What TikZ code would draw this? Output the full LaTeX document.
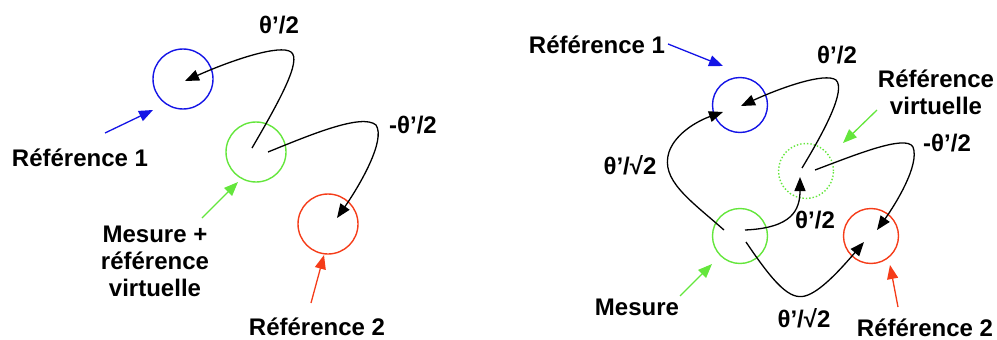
\documentclass[tikz,border=0pt]{standalone}
\usepackage{fontspec}
\setmainfont{Liberation Sans}
\usetikzlibrary{arrows.meta}
\definecolor{cblue}{RGB}{20,20,230}
\definecolor{cgreen}{RGB}{100,230,60}
\definecolor{cred}{RGB}{245,60,25}
\tikzset{
  ring/.style={circle,draw,line width=1.4pt,inner sep=0pt},
  conn/.style={line width=1.3pt,-{Triangle[length=14pt,width=11pt]}},
  lab/.style={font=\fontsize{24}{28}\selectfont\bfseries,inner sep=0pt,align=center},
}
\begin{document}
\begin{tikzpicture}[x=1pt,y=-1pt]
\useasboundingbox (0,0) rectangle (997,340);
% ---------- left panel ----------
\node[ring,draw=cblue,minimum size=60pt] (L1) at (183,79) {};
\node[ring,draw=cgreen,minimum size=60pt] (LM) at (256,152) {};
\node[ring,draw=cred,minimum size=60pt] (L2) at (328,224) {};
\coordinate (lms1) at (252,148);
\coordinate (lms2) at (268,152);
\coordinate (l1t) at (185,81);
\coordinate (l2t) at (337,218);
\draw[conn] (lms1) .. controls (280,100) and (302,60) .. (291,52) .. controls (280,44) and (232,60) .. (l1t);
\draw[conn] (lms2) .. controls (310,135) and (362,113) .. (376,125) .. controls (386,140) and (360,185) .. (l2t);
\node[lab] (tl1) at (279,25) {θ’/2};
\node[lab] (tl2) at (413,125) {-θ’/2};
\node[lab] (tr1) at (80,158) {Référence 1};
\node[lab] (tm) at (155,261) {Mesure +\\[-1pt]référence\\[-1pt]virtuelle};
\node[lab] (tr2) at (317,327) {Référence 2};
\coordinate (ba) at (105,133);
\coordinate (ga) at (202,218);
\coordinate (ra) at (311,303);
\coordinate (bat) at (153,110);
\coordinate (gat) at (238,182);
\coordinate (rat) at (324,255);
\draw[conn,cblue] (ba) -- (bat);
\draw[conn,cgreen] (ga) -- (gat);
\draw[conn,cred] (ra) -- (rat);
% ---------- right panel ----------
\node[ring,draw=cblue,minimum size=55pt] (R1) at (740,105) {};
\node[ring,draw=cgreen,dotted,minimum size=55pt] (RV) at (806,171) {};
\node[ring,draw=cgreen,minimum size=55pt] (RM) at (740,236) {};
\node[ring,draw=cred,minimum size=55pt] (R2) at (871,236) {};
\coordinate (rv1) at (802,168);
\coordinate (rv2) at (815,170);
\coordinate (rm1) at (724,230);
\coordinate (rm2) at (745,230);
\coordinate (rm3) at (746,242);
\coordinate (r1a) at (741,106);
\coordinate (r1b) at (723,112);
\coordinate (rvt) at (800,177);
\coordinate (r2a) at (877,230);
\coordinate (r2b) at (864,242);
\draw[conn] (rv1) .. controls (825,130) and (846,90) .. (836,80) .. controls (825,72) and (780,88) .. (r1a);
\draw[conn] (rv2) .. controls (855,155) and (906,134) .. (913,147) .. controls (920,165) and (895,205) .. (r2a);
\draw[conn] (rm1) .. controls (690,200) and (660,180) .. (669,152) .. controls (676,132) and (700,120) .. (r1b);
\draw[conn] (rm2) .. controls (792,228) and (800,210) .. (rvt);
\draw[conn] (rm3) .. controls (775,285) and (790,300) .. (805,296) .. controls (820,292) and (840,270) .. (r2b);
\node[lab] (u1) at (597,45) {Référence 1};
\node[lab] (u2) at (837,55) {θ’/2};
\node[lab] (u3) at (936,92) {Référence\\[-1pt]virtuelle};
\node[lab] (u4) at (947,143) {-θ’/2};
\node[lab] (u5) at (630,165) {θ’/√2};
\node[lab] (u6) at (815,220) {θ’/2};
\node[lab] (u7) at (637,307) {Mesure};
\node[lab] (u8) at (804,318) {θ’/√2};
\node[lab] (u9) at (925,328) {Référence 2};
\coordinate (b2) at (668,44);
\coordinate (b2t) at (723,66);
\coordinate (g2) at (877,110);
\coordinate (g2t) at (843,143);
\coordinate (g3) at (680,296);
\coordinate (g3t) at (712,264);
\coordinate (r3) at (898,307);
\coordinate (r3t) at (890,265);
\draw[conn,cblue] (b2) -- (b2t);
\draw[conn,cgreen] (g2) -- (g2t);
\draw[conn,cgreen] (g3) -- (g3t);
\draw[conn,cred] (r3) -- (r3t);
\end{tikzpicture}
\end{document}
